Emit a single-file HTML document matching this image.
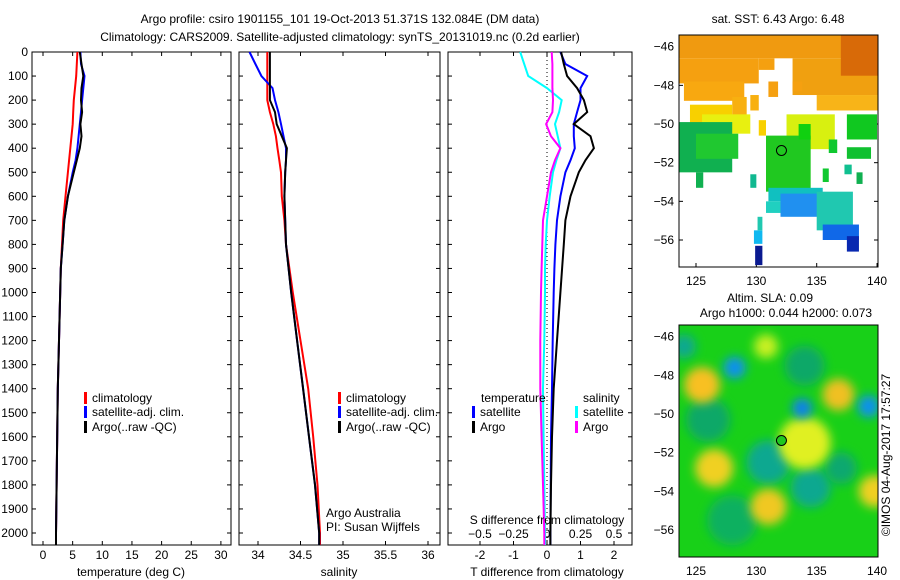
<!DOCTYPE html>
<html><head><meta charset="utf-8">
<style>
body{margin:0;background:#fff;}
svg{display:block;font-family:"Liberation Sans",sans-serif;}
text{font-size:12px;fill:#000;}
</style></head>
<body>
<svg id="c" width="900" height="580" viewBox="0 0 900 580">
<defs>
<filter id="bl" x="-50%" y="-50%" width="200%" height="200%"><feGaussianBlur stdDeviation="5"/></filter>
<clipPath id="cm1"><rect x="679" y="35" width="199" height="232"/></clipPath>
<clipPath id="cm2"><rect x="679" y="325" width="199" height="232"/></clipPath>
</defs>
<text x="340" y="23" text-anchor="middle">Argo profile: csiro 1901155_101 19-Oct-2013 51.371S 132.084E (DM data)</text>
<text x="340" y="41" text-anchor="middle">Climatology: CARS2009. Satellite-adjusted climatology: synTS_20131019.nc (0.2d earlier)</text>
<g id="g"></g>
</svg>
<script>
const depths=[0,50,100,150,200,250,300,350,400,450,500,600,700,800,900,1000,1200,1400,1600,1800,2000,2050];
const tempClim=[5.8,5.7,5.6,5.4,5.2,5.1,5.0,4.8,4.6,4.4,4.2,3.8,3.4,3.2,3.0,2.9,2.7,2.5,2.4,2.3,2.2,2.2];
const tempSat=[6.3,6.4,7.0,6.8,6.6,6.4,6.2,6.0,5.8,5.5,5.0,4.2,3.6,3.3,3.0,2.9,2.7,2.5,2.4,2.3,2.2,2.2];
const tempArgo=[6.2,6.5,6.8,6.5,6.4,6.6,6.3,6.5,6.2,5.7,5.2,4.2,3.6,3.3,3.0,2.9,2.7,2.5,2.4,2.3,2.2,2.2];
const salClim=[34.11,34.11,34.11,34.11,34.11,34.14,34.18,34.21,34.23,34.25,34.27,34.28,34.31,34.33,34.37,34.41,34.5,34.59,34.65,34.7,34.73,34.73];
const salSat=[33.9,33.97,34.04,34.17,34.2,34.24,34.27,34.3,34.33,34.33,34.32,34.31,34.32,34.33,34.36,34.39,34.46,34.53,34.6,34.67,34.72,34.72];
const salArgo=[34.14,34.14,34.14,34.14,34.14,34.2,34.22,34.28,34.34,34.33,34.32,34.31,34.32,34.33,34.36,34.39,34.46,34.53,34.6,34.67,34.72,34.72];
const dTsat=[0.4,0.55,1.2,1.0,1.0,0.9,0.8,0.8,0.83,0.7,0.55,0.4,0.3,0.25,0.22,0.2,0.17,0.15,0.12,0.11,0.1,0.1];
const dTargo=[0.42,0.5,0.6,0.9,1.1,1.2,0.8,1.3,1.4,1.15,0.95,0.7,0.55,0.5,0.45,0.4,0.3,0.2,0.15,0.12,0.1,0.1];
const dSsat=[-0.2,-0.17,-0.14,0.0,0.11,0.09,0.06,0.08,0.1,0.07,0.045,0.02,0,-0.01,-0.015,-0.015,-0.02,-0.03,-0.025,-0.02,-0.015,-0.015];
const dSargo=[0.035,0.04,0.04,0.04,0.045,0.04,-0.007,0.03,0.1,0.06,0.03,0,-0.03,-0.035,-0.04,-0.045,-0.05,-0.05,-0.04,-0.03,-0.02,-0.02];
const depthTicks=[0,100,200,300,400,500,600,700,800,900,1000,1100,1200,1300,1400,1500,1600,1700,1800,1900,2000];
const tempTicks=[0,5,10,15,20,25,30];
const salTicks=[34,34.5,35,35.5,36];
const tdTicks=[-2,-1,0,1,2];
const sdTicks=[-0.5,-0.25,0,0.25,0.5];
const latTicks=[-46,-48,-50,-52,-54,-56];
const lonTicks=[125,130,135,140];

const NS='http://www.w3.org/2000/svg';
const G=document.getElementById('g');
function el(tag,attrs,parent,txt){const e=document.createElementNS(NS,tag);for(const k in attrs)e.setAttribute(k,attrs[k]);if(txt!==undefined)e.textContent=txt;(parent||G).appendChild(e);return e;}
const yD=d=>52+d*0.2405;
const P1={x0:32,x1:231,sx:v=>43+v*5.93};
const P2={x0:239,x1:440,sx:v=>258+(v-34)*85};
const P3={x0:448,x1:632,sx:v=>547+v*33.5,ss:v=>547+v*134};
const Y0=52,Y1=545;

function frame(p,name){
  const r=el('rect',{x:p.x0,y:Y0,width:p.x1-p.x0,height:Y1-Y0,fill:'none',stroke:'#000','stroke-width':1});
  
  
}
function xt(p,ticks,f,lab){
  ticks.forEach(t=>{const x=f(t);
    el('line',{x1:x,x2:x,y1:Y1,y2:Y1-4,stroke:'#000'});
    el('line',{x1:x,x2:x,y1:Y0,y2:Y0+4,stroke:'#000'});
    const tx=el('text',{x:x,y:559,'text-anchor':'middle'},G,lab(t));
    
    
  });
}
function line(p,xs,f,col,name,w){
  const pts=depths.map((d,i)=>f(xs[i]).toFixed(1)+','+yD(d).toFixed(1)).join(' ');
  const l=el('polyline',{points:pts,fill:'none',stroke:col,'stroke-width':w||2});
  
  
}
[P1,P2,P3].forEach((p)=>{
  depthTicks.forEach(d=>{const y=yD(d);
    el('line',{x1:p.x0,x2:p.x0+4,y1:y,y2:y,stroke:'#000'});
    el('line',{x1:p.x1,x2:p.x1-4,y1:y,y2:y,stroke:'#000'});
  });
});
depthTicks.forEach(d=>{
  const t=el('text',{x:28,y:yD(d)+4,'text-anchor':'end'},G,String(d));
  
  
});
frame(P1,'temperature-panel');frame(P2,'salinity-panel');frame(P3,'difference-panel');
xt(P1,tempTicks,P1.sx,t=>String(t));
xt(P2,salTicks,P2.sx,t=>String(t));
xt(P3,tdTicks,P3.sx,t=>String(t));
sdTicks.forEach(t=>{const x=P3.ss(t);
  const tx=el('text',{x:x,y:538,'text-anchor':'middle'},G,t<0?'\u2212'+(-t):String(t));
  
  
});
el('line',{x1:P3.sx(0),x2:P3.sx(0),y1:Y0,y2:Y1,stroke:'#000','stroke-dasharray':'1,3'});
line(P1,tempClim,P1.sx,'#f00','temp-climatology-line');
line(P1,tempSat,P1.sx,'#00f','temp-satellite-line');
line(P1,tempArgo,P1.sx,'#000','temp-argo-line');
line(P2,salClim,P2.sx,'#f00','sal-climatology-line');
line(P2,salSat,P2.sx,'#00f','sal-satellite-line');
line(P2,salArgo,P2.sx,'#000','sal-argo-line');
line(P3,dSsat,P3.ss,'#0ff','s-diff-satellite-line');
line(P3,dSargo,P3.ss,'#f0f','s-diff-argo-line');
line(P3,dTsat,P3.sx,'#00f','t-diff-satellite-line');
line(P3,dTargo,P3.sx,'#000','t-diff-argo-line');

function txt(x,y,s,name,anchor){const t=el('text',{x:x,y:y,'text-anchor':anchor||'start'},G,s);return t;}
function leg(x,y,col,s,name){el('rect',{x:x,y:y-10,width:3,height:12,fill:col});txt(x+8,y,s,name);}
txt(131,576,'temperature (deg C)','x-axis-title-temperature','middle');
txt(339,576,'salinity','x-axis-title-salinity','middle');
txt(547,576,'T difference from climatology','x-axis-title-t-diff','middle');
txt(547,524,'S difference from climatology','x-axis-title-s-diff','middle');
leg(84,402,'#f00','climatology','legend-climatology');
leg(84,416,'#00f','satellite-adj. clim.','legend-satellite');
leg(84,431,'#000','Argo(..raw -QC)','legend-argo');
leg(338,402,'#f00','climatology','legend-climatology-2');
leg(338,416,'#00f','satellite-adj. clim.','legend-satellite-2');
leg(338,431,'#000','Argo(..raw -QC)','legend-argo-2');
txt(481,402,'temperature','legend-title-temperature');
leg(472,416,'#00f','satellite','legend-t-satellite');
leg(472,431,'#000','Argo','legend-t-argo');
txt(583,402,'salinity','legend-title-salinity');
leg(575,416,'#0ff','satellite','legend-s-satellite');
leg(575,431,'#f0f','Argo','legend-s-argo');
txt(326,517,'Argo Australia','credit-line-1');
txt(326,531,'PI: Susan Wijffels','credit-line-2');

const lx=l=>696+(l-125)*12.07;
function mapAxes(top){
  const ly=v=>top+11.7+(-46-v)*19.33;
  el('rect',{x:679,y:top,width:199,height:232,fill:'none',stroke:'#000'});
  latTicks.forEach(v=>{const y=ly(v);el('line',{x1:679,x2:683,y1:y,y2:y,stroke:'#000'});el('line',{x1:878,x2:874,y1:y,y2:y,stroke:'#000'});
    txt(674,y+4,'\u2212'+(-v),'lat-tick-label','end');});
  lonTicks.forEach(v=>{const x=lx(v);el('line',{x1:x,x2:x,y1:top+232,y2:top+228,stroke:'#000'});el('line',{x1:x,x2:x,y1:top,y2:top+4,stroke:'#000'});
    txt(x,top+250,String(v),'lon-tick-label','middle');});
  return ly;
}
const sstRegions=[[123.6,140.2,-45.4,-46.6,'#f09a10'],[123.6,130.2,-46.6,-47.9,'#f5a010'],[130.2,131.5,-46.6,-47.2,'#f5a010'],[133,140.2,-46.6,-48.5,'#f0a010'],[137,140.2,-45.4,-47.5,'#d86a08'],
[124,129,-47.8,-48.8,'#f8a810'],[128,129.2,-48.6,-49.6,'#f8b010'],[129.5,130.2,-48.5,-49.3,'#f8b010'],[131,131.8,-47.8,-48.6,'#f5a010'],[133,133.8,-47.8,-48.3,'#f5a010'],[135,140.2,-48.5,-49.3,'#f8b418'],[124.5,128,-49,-50,'#f8d000'],[125.5,129.5,-49.5,-50.5,'#e8f010'],
[130.2,130.8,-49.8,-50.6,'#f8d000'],[132.5,136.5,-49.5,-51.3,'#d8f010'],[123.6,128,-49.9,-52.5,'#10b050'],[125,128.5,-50.5,-51.8,'#20c830'],[130.8,134.5,-50.6,-53.5,'#20c820'],[133.5,134.5,-50,-50.8,'#10d010'],
[137.5,140,-49.5,-50.8,'#10c820'],[137.5,139.5,-51.2,-51.8,'#10c030'],[136,136.7,-50.8,-51.5,'#10c830'],[125,125.6,-52.5,-53.3,'#10b050'],[129.5,130,-52.6,-53.3,'#10b890'],[135.5,136,-52.3,-53,'#10c830'],[137.3,137.9,-52.1,-52.6,'#10c090'],[138.3,138.8,-52.5,-53.1,'#10b050'],
[131,135.5,-53.3,-54,'#10c0c0'],[132,136.5,-53.6,-54.8,'#2090f0'],[130.8,132,-54,-54.6,'#20d0c0'],
[135,138,-53.5,-55.5,'#20c8b0'],[135.5,138.5,-55.2,-56,'#1068e8'],[137.5,138.5,-55.8,-56.6,'#0828b0'],[129.8,130.5,-55.5,-56.2,'#10b8f0'],[129.9,130.5,-56.3,-57.3,'#0a1a90'],[130.1,130.5,-54.8,-55.5,'#20c8b0']];
const ly1=mapAxes(35);
const gm1=el('g',{'clip-path':'url(#cm1)'});


sstRegions.forEach(r=>{el('rect',{x:lx(r[0]),y:ly1(r[2]),width:lx(r[1])-lx(r[0]),height:ly1(r[3])-ly1(r[2]),fill:r[4]},gm1);});
el('rect',{x:679,y:35,width:199,height:232,fill:'none',stroke:'#000'});
el('circle',{cx:lx(132.08),cy:ly1(-51.37),r:5,fill:'#20c820',stroke:'#000'});
txt(778,23,'sat. SST: 6.43 Argo: 6.48','sst-map-title','middle');
const ly2=mapAxes(325);
const gm2=el('g',{'clip-path':'url(#cm2)'});


el('rect',{x:679,y:325,width:199,height:232,fill:'#18d018'},gm2);
const slaBlobs=[[126,-50.3,22,'#10a868'],[131,-52.5,22,'#10a890'],[134.5,-53.8,20,'#10a890'],[134,-47.5,20,'#10a868'],[128,-55.5,25,'#10b060'],[137,-52.8,16,'#10a870'],[124,-46.5,12,'#10a890'],
[125.5,-48.5,18,'#f8c020'],[126.5,-52.8,19,'#f0d020'],[131,-54.8,18,'#f0c820'],[134,-51.5,26,'#e0f020'],[136.8,-49,16,'#f0c020'],[139.8,-54,16,'#f0d020'],[130.8,-46.5,12,'#c8f020'],
[128.2,-47.6,11,'#1090f0'],[133.8,-49.7,10,'#1080f0'],[139.3,-49.6,11,'#1090f0']];
slaBlobs.forEach(b=>el('circle',{cx:lx(b[0]),cy:ly2(b[1]),r:b[2],fill:b[3],filter:'url(#bl)'},gm2));
el('rect',{x:679,y:325,width:199,height:232,fill:'none',stroke:'#000'});
el('circle',{cx:lx(132.08),cy:ly2(-51.37),r:5,fill:'#20c820',stroke:'#000'});
txt(770,302,'Altim. SLA: 0.09','sla-map-title-1','middle');
txt(786,317,'Argo h1000: 0.044 h2000: 0.073','sla-map-title-2','middle');
const cp=txt(0,0,'\u00a9IMOS 04-Aug-2017 17:57:27','copyright-text','middle');
cp.setAttribute('transform','translate(890,455) rotate(-90)');
</script>
</body></html>
